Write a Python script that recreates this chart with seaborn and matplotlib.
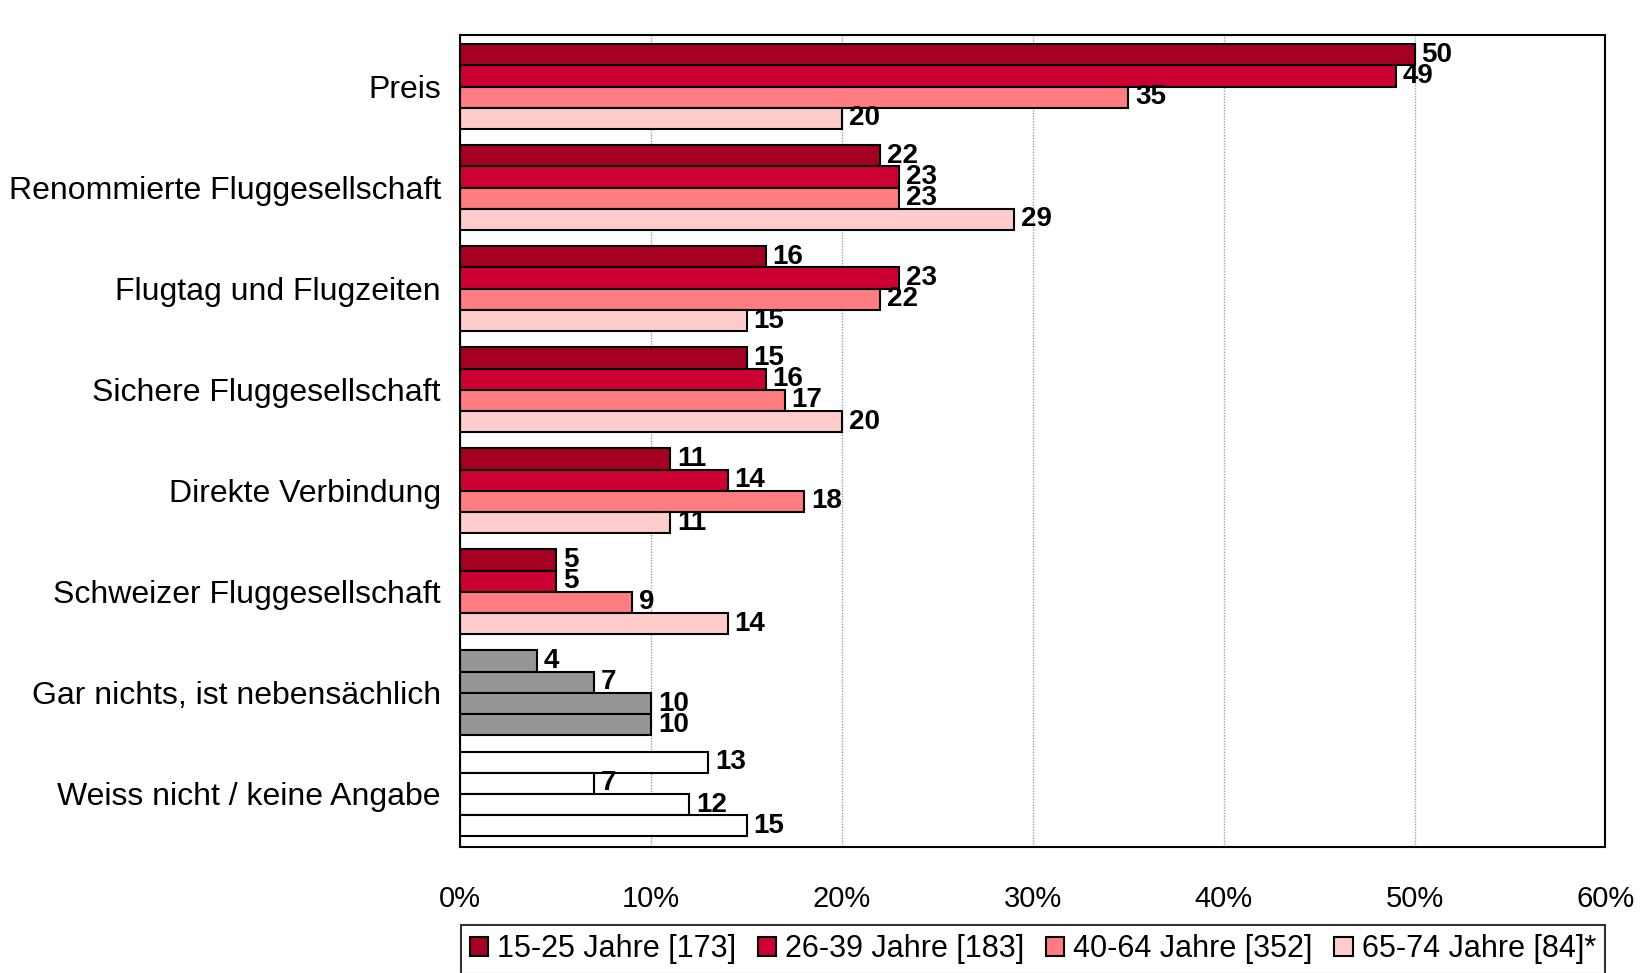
import numpy as np
import pandas as pd
import matplotlib.pyplot as plt
import seaborn as sns

categories = ["Preis", "Renommierte Fluggesellschaft", "Flugtag und Flugzeiten",
              "Sichere Fluggesellschaft", "Direkte Verbindung",
              "Schweizer Fluggesellschaft", "Gar nichts, ist nebensächlich",
              "Weiss nicht / keine Angabe"]
groups = ["15-25 Jahre [173]", "26-39 Jahre [183]", "40-64 Jahre [352]", "65-74 Jahre [84]*"]
age_15_25 = [50, 22, 16, 15, 11, 5, 4, 13]
age_26_39 = [49, 23, 23, 16, 14, 5, 7, 7]
age_40_64 = [35, 23, 22, 17, 18, 9, 10, 12]
age_65_74 = [20, 29, 15, 20, 11, 14, 10, 15]

palette = ["#A50021", "#CC0033", "#FF7C80", "#FFCCCC"]
# special fills for the last two categories
special = {"Gar nichts, ist nebensächlich": "#969696",
           "Weiss nicht / keine Angabe": "#FFFFFF"}

df = pd.DataFrame({
    "Kategorie": categories * 4,
    "Gruppe": np.repeat(groups, len(categories)),
    "Wert": age_15_25 + age_26_39 + age_40_64 + age_65_74,
})

sns.set_style("white")
plt.rcParams['font.family'] = ['Liberation Sans', 'DejaVu Sans']
plt.rcParams['text.color'] = 'black'
plt.rcParams['xtick.color'] = 'black'
plt.rcParams['ytick.color'] = 'black'

fig = plt.figure(figsize=(16.5, 9.73), dpi=100)
ax = fig.add_axes([0.279, 0.130, 0.694, 0.834])

sns.barplot(data=df, y="Kategorie", x="Wert", hue="Gruppe", order=categories,
            hue_order=groups, palette=palette, orient="h", width=0.84,
            edgecolor="black", linewidth=1.5, saturation=1, ax=ax, errorbar=None)

for cont in ax.containers:
    for cat, bar in zip(categories, cont.patches):
        if cat in special:
            bar.set_facecolor(special[cat])
    ax.bar_label(cont, fmt="%d", padding=5, fontsize=20, fontweight="bold", color="black")

ax.set_xlim(0, 60)
ax.set_ylim(len(categories) - 0.5 + 0.02, -0.5 - 0.01)
ax.set_xticks(np.arange(0, 61, 10))
ax.set_xticklabels([f"{v}%" for v in range(0, 61, 10)], fontsize=21)
ax.tick_params(axis="x", pad=28, length=0)
ax.tick_params(axis="y", pad=14, length=0, labelsize=23)
ax.set_xlabel("")
ax.set_ylabel("")
ax.xaxis.grid(True, color="#A0A0A0", linestyle=(0, (1, 1)), linewidth=1)
ax.set_axisbelow(True)
for s in ax.spines.values():
    s.set_visible(True)
    s.set_color("black")
    s.set_linewidth(1.5)

handles, labels = ax.get_legend_handles_labels()
ax.get_legend().remove()
leg = fig.legend(handles, labels, loc="upper center", bbox_to_anchor=(0.626, 0.049),
                 ncol=4, fontsize=22, frameon=True, fancybox=False, edgecolor="black",
                 handlelength=0.6, handleheight=0.6, handletextpad=0.3,
                 columnspacing=0.7, borderpad=0.3, borderaxespad=0)
leg.get_frame().set_linewidth(1.5)

fig.savefig("out.png", dpi=100)
